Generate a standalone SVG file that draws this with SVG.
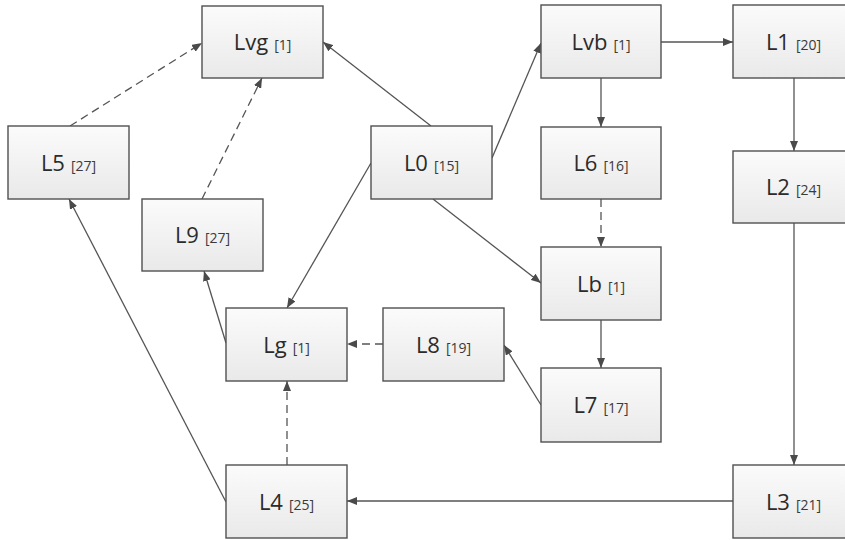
<svg xmlns="http://www.w3.org/2000/svg" width="845" height="540" viewBox="0 0 845 540">
<defs>
  <linearGradient id="boxfill" x1="0" y1="0" x2="0" y2="1">
    <stop offset="0" stop-color="#fbfbfb"/>
    <stop offset="1" stop-color="#e9e9e9"/>
  </linearGradient>
  <marker id="arr" viewBox="0 0 10 8" refX="10" refY="4" markerWidth="10" markerHeight="8" markerUnits="userSpaceOnUse" orient="auto">
    <path d="M0,0 L10,4 L0,8 Z" fill="#4a4a4a"/>
  </marker>
</defs>
<style>
  .box { fill: url(#boxfill); stroke: #505050; stroke-width: 1.4; }
  .shadow { fill: #d8d8d8; opacity: 0.6; }
  .lbl { font-family: "Open Sans", "Liberation Sans", sans-serif; fill: #2b2b2b; text-anchor: middle; }
  .big { font-size: 22px; }
  .small { font-size: 14px; fill: #3a3a3a; }
  .edge { fill: none; stroke: #555555; stroke-width: 1.3; marker-end: url(#arr); }
  .dash { stroke-dasharray: 8 5; }
</style>
<rect width="845" height="540" fill="#ffffff"/>

<g id="connectors">
  <line class="edge" x1="431" y1="126" x2="323" y2="42"/>
  <line class="edge" x1="492" y1="158" x2="541" y2="43"/>
  <line class="edge" x1="371" y1="163" x2="287" y2="308"/>
  <line class="edge" x1="433" y1="199" x2="541" y2="283"/>
  <line class="edge" x1="661" y1="42" x2="733" y2="42"/>
  <line class="edge" x1="601" y1="78" x2="601" y2="127"/>
  <line class="edge" x1="794" y1="78" x2="794" y2="151"/>
  <line class="edge" x1="794" y1="223" x2="794" y2="465"/>
  <line class="edge" x1="733" y1="501" x2="347" y2="501"/>
  <line class="edge dash" x1="601" y1="199" x2="601" y2="247"/>
  <line class="edge" x1="601" y1="320" x2="601" y2="368"/>
  <line class="edge" x1="541" y1="405" x2="504" y2="345"/>
  <line class="edge dash" x1="383" y1="344" x2="347" y2="344"/>
  <line class="edge dash" x1="287" y1="465" x2="287" y2="381"/>
  <line class="edge" x1="226" y1="502" x2="69" y2="199"/>
  <line class="edge" x1="226" y1="343" x2="204" y2="271"/>
  <line class="edge dash" x1="202" y1="199" x2="262" y2="78"/>
  <line class="edge dash" x1="70" y1="126" x2="202" y2="43"/>
</g>

<g id="Lvg">
  <rect class="box" x="202" y="6" width="121" height="72"/>
  <text class="lbl" x="262.5" y="50"><tspan class="big">Lvg</tspan><tspan class="small" dx="6">[1]</tspan></text>
</g>
<g id="Lvb">
  <rect class="box" x="541" y="5" width="120" height="73"/>
  <text class="lbl" x="601" y="50"><tspan class="big">Lvb</tspan><tspan class="small" dx="6">[1]</tspan></text>
</g>
<g id="L1">
  <rect class="box" x="733" y="5" width="121" height="73"/>
  <text class="lbl" x="793.5" y="50"><tspan class="big">L1</tspan><tspan class="small" dx="6">[20]</tspan></text>
</g>
<g id="L5">
  <rect class="box" x="8" y="126" width="121" height="73"/>
  <text class="lbl" x="68.5" y="171"><tspan class="big">L5</tspan><tspan class="small" dx="6">[27]</tspan></text>
</g>
<g id="L0">
  <rect class="box" x="371" y="126" width="121" height="73"/>
  <text class="lbl" x="431.5" y="171"><tspan class="big">L0</tspan><tspan class="small" dx="6">[15]</tspan></text>
</g>
<g id="L6">
  <rect class="box" x="541" y="127" width="120" height="72"/>
  <text class="lbl" x="601" y="171"><tspan class="big">L6</tspan><tspan class="small" dx="6">[16]</tspan></text>
</g>
<g id="L2">
  <rect class="box" x="733" y="151" width="121" height="72"/>
  <text class="lbl" x="793.5" y="195"><tspan class="big">L2</tspan><tspan class="small" dx="6">[24]</tspan></text>
</g>
<g id="L9">
  <rect class="box" x="142" y="199" width="121" height="72"/>
  <text class="lbl" x="202.5" y="243"><tspan class="big">L9</tspan><tspan class="small" dx="6">[27]</tspan></text>
</g>
<g id="Lb">
  <rect class="box" x="541" y="247" width="120" height="73"/>
  <text class="lbl" x="601" y="292"><tspan class="big">Lb</tspan><tspan class="small" dx="6">[1]</tspan></text>
</g>
<g id="Lg">
  <rect class="box" x="226" y="308" width="121" height="73"/>
  <text class="lbl" x="286.5" y="353"><tspan class="big">Lg</tspan><tspan class="small" dx="6">[1]</tspan></text>
</g>
<g id="L8">
  <rect class="box" x="383" y="308" width="121" height="73"/>
  <text class="lbl" x="443.5" y="353"><tspan class="big">L8</tspan><tspan class="small" dx="6">[19]</tspan></text>
</g>
<g id="L7">
  <rect class="box" x="541" y="368" width="120" height="74"/>
  <text class="lbl" x="601" y="413"><tspan class="big">L7</tspan><tspan class="small" dx="6">[17]</tspan></text>
</g>
<g id="L4">
  <rect class="box" x="226" y="465" width="121" height="73"/>
  <text class="lbl" x="286.5" y="510"><tspan class="big">L4</tspan><tspan class="small" dx="6">[25]</tspan></text>
</g>
<g id="L3">
  <rect class="box" x="733" y="465" width="121" height="73"/>
  <text class="lbl" x="793.5" y="510"><tspan class="big">L3</tspan><tspan class="small" dx="6">[21]</tspan></text>
</g>
</svg>
